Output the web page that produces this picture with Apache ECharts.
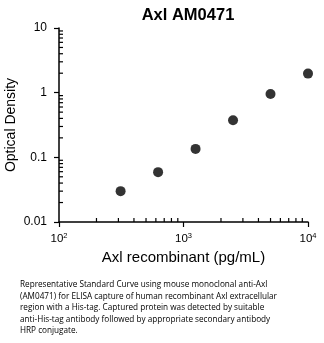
<!DOCTYPE html>
<html><head><meta charset="utf-8">
<script src="https://cdn.jsdelivr.net/npm/echarts@6/dist/echarts.min.js"></script>
<style>html,body{margin:0;padding:0;background:#fff}#c{width:324px;height:343px}</style>
</head><body><div id="c"></div>
<script>
const concentrations = [312.5, 625, 1250, 2500, 5000, 10000];
const opticalDensity = [0.030, 0.059, 0.135, 0.375, 0.955, 1.97];
const xTickExponents = ['2', '3', '4'];
const yTickLabels = ['0.01', '0.1', '1', '10'];
const minorFactors = [2, 3, 4, 5, 6, 7, 8, 9];
const xMinorDecades = [100, 1000];
const yMinorDecades = [0.01, 0.1, 1];
const titleText = 'Axl AM0471';
const xName = 'Axl recombinant (pg/mL)';
const yName = 'Optical Density';
const captionLines = [
  'Representative Standard Curve using mouse monoclonal anti-Axl',
  '(AM0471) for ELISA capture of human recombinant Axl extracellular',
  'region with a His-tag. Captured protein was detected by suitable',
  'anti-His-tag antibody followed by appropriate secondary antibody',
  'HRP conjugate.'
];

const xMin = 100, xMax = 10000, yMin = 0.01, yMax = 10;
// [x, y, direction flag: 0 = tick on x axis, 1 = tick on y axis]
const minorData = [];
xMinorDecades.forEach(d => minorFactors.forEach(f => minorData.push([d * f, yMin, 0])));
yMinorDecades.forEach(d => minorFactors.forEach(f => minorData.push([xMin, d * f, 1])));

const chart = echarts.init(document.getElementById('c'), null, {renderer: 'canvas'});
const F = 'Liberation Sans, Arial, sans-serif';
const axisCommon = {
  axisLine: {lineStyle: {color: '#000', width: 1.5}},
  axisTick: {length: 5, lineStyle: {color: '#000', width: 1.2}},
  splitLine: {show: false}
};
chart.setOption({
  animation: false,
  title: {text: titleText, left: 183, top: 2, textAlign: 'center',
    textStyle: {fontFamily: F, fontSize: 16.5, fontWeight: 'bold', color: '#000'}},
  grid: {left: 59, right: 16, top: 28, bottom: 121, containLabel: false, outerBoundsMode: 'none'},
  xAxis: Object.assign({}, axisCommon, {
    type: 'log', logBase: 10, min: xMin, max: xMax,
    name: xName, nameLocation: 'middle', nameGap: 28, nameMoveOverlap: false,
    nameTextStyle: {fontFamily: F, fontSize: 15, color: '#000'},
    axisLabel: {margin: 10, color: '#000',
      formatter: function (v) {
        const e = Math.round(Math.log10(v));
        const i = xTickExponents.indexOf(String(e));
        return '{b|10}{s|' + (i >= 0 ? xTickExponents[i] : e) + '}';
      },
      rich: {b: {fontFamily: F, fontSize: 11.5, color: '#000'},
             s: {fontFamily: F, fontSize: 7.5, color: '#000', verticalAlign: 'top', padding: [0, 0, 6, 0]}}}
  }),
  yAxis: Object.assign({}, axisCommon, {
    type: 'log', logBase: 10, min: yMin, max: yMax,
    name: yName, nameLocation: 'middle', nameGap: 41, nameMoveOverlap: false,
    nameTextStyle: {fontFamily: F, fontSize: 14, color: '#000'},
    axisLabel: {margin: 12, fontFamily: F, fontSize: 12, color: '#000',
      formatter: function (v) {
        const e = Math.round(Math.log10(v));
        return yTickLabels[e + 2];
      }}
  }),
  series: [{
    type: 'custom',
    data: minorData,
    renderItem: function (params, api) {
      const p = api.coord([api.value(0), api.value(1)]);
      const dir = api.value(2);
      const shape = dir === 0
        ? {x1: p[0], y1: p[1], x2: p[0], y2: p[1] - 4}
        : {x1: p[0], y1: p[1], x2: p[0] + 4, y2: p[1]};
      return {type: 'line', shape: shape, style: {stroke: '#000', lineWidth: 1.2}};
    }
  }, {
    type: 'scatter', symbol: 'circle', symbolSize: 10,
    itemStyle: {color: '#000'},
    data: concentrations.map((c, i) => [c, opticalDensity[i]])
  }],
  graphic: captionLines.map((t, i) => ({
    type: 'text', left: 20, top: 281 + i * 11.5,
    style: {text: t, font: '8.2px "Open Sans", sans-serif', fill: '#000'}
  }))
});
</script></body></html>
